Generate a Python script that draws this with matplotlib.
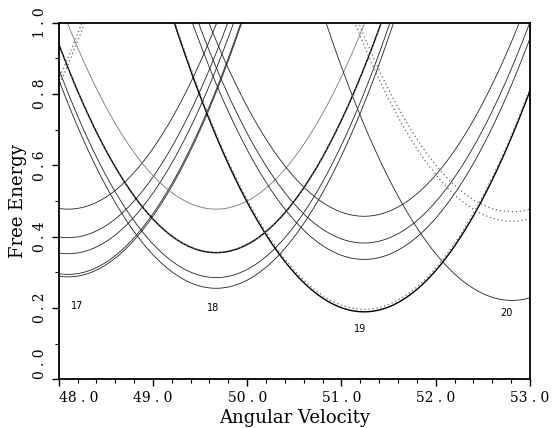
import numpy as np
import matplotlib
matplotlib.use("Agg")
import matplotlib.pyplot as plt
from matplotlib.ticker import MultipleLocator

# angular momentum states and where their parabolas bottom out
states = [16, 17, 18, 19, 20]
centres = [46.53, 48.10, 49.67, 51.24, 52.81]
curvature = [0.20, 0.21, 0.21, 0.20, 0.20]

# minima of the solid curves per state
solid_min = {
    17: [0.477, 0.397, 0.352, 0.294, 0.287],
    18: [0.477, 0.355, 0.285, 0.255],
    19: [0.457, 0.382, 0.336, 0.189],
    20: [0.221],
}
# minima of the dotted curves per state
dotted_min = {
    16: [0.410, 0.390],
    18: [0.355],
    19: [0.196],
    20: [0.470, 0.443],
}
label_states = ["17", "18", "19", "20"]

x_ticks = [48.0, 49.0, 50.0, 51.0, 52.0, 53.0]
y_ticks = [0.0, 0.2, 0.4, 0.6, 0.8, 1.0]

plt.rcParams["font.family"] = "DejaVu Serif"

fig = plt.figure(figsize=(5.59, 4.28), dpi=100)
ax = fig.add_axes([0.105, 0.114, 0.843, 0.833])

omega = np.linspace(45.0, 54.0, 1200)

def parabola(state, fmin):
    i = states.index(state)
    return fmin + curvature[i] * (omega - centres[i]) ** 2

for st, mins in solid_min.items():
    for m in mins:
        if (st, m) in [(18, 0.355), (19, 0.189)]:
            ax.plot(omega, parabola(st, m), color="black", lw=1.0)
        elif (st, m) == (18, 0.477):
            ax.plot(omega, parabola(st, m), color="#777777", lw=0.6)
        else:
            ax.plot(omega, parabola(st, m), color="#222222", lw=0.6)

for st, mins in dotted_min.items():
    for m in mins:
        ax.plot(omega, parabola(st, m), color="#666666", lw=0.9,
                linestyle=(0, (1, 2.2)))

ax.text(48.2, 0.205, label_states[0], fontsize=7, family="DejaVu Sans", ha="center", va="center")
ax.text(49.64, 0.200, label_states[1], fontsize=7, family="DejaVu Sans", ha="center", va="center")
ax.text(51.2, 0.140, label_states[2], fontsize=7, family="DejaVu Sans", ha="center", va="center")
ax.text(52.75, 0.185, label_states[3], fontsize=7, family="DejaVu Sans", ha="center", va="center")

ax.set_xlim(48.0, 53.0)
ax.set_ylim(0.0, 1.0)

ax.set_xticks(x_ticks, [("%.1f" % v).replace(".", " . ") for v in x_ticks])
ax.set_yticks(y_ticks, [("%.1f" % v).replace(".", " . ") for v in y_ticks],
              rotation=90, va="center")
ax.xaxis.set_minor_locator(MultipleLocator(0.2))
ax.yaxis.set_minor_locator(MultipleLocator(0.1))

ax.tick_params(which="major", direction="out", length=5, width=1.0, labelsize=10)
ax.tick_params(which="minor", direction="out", length=3, width=0.8)

ax.get_yticklabels()[0].set_va("bottom")
ax.get_xticklabels()[0].set_ha("left")

for s in ax.spines.values():
    s.set_linewidth(1.3)

ax.set_xlabel("Angular Velocity", fontsize=13, labelpad=3)
ax.set_ylabel("Free Energy", fontsize=13, labelpad=4)

plt.savefig("out.png", dpi=100)
